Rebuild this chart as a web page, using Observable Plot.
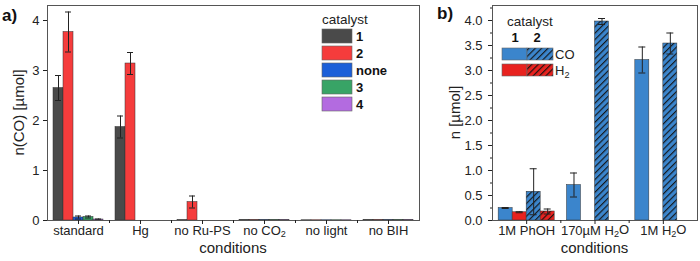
<!DOCTYPE html>
<html><head><meta charset="utf-8">
<script src="https://cdn.jsdelivr.net/npm/d3@7"></script>
<script src="https://cdn.jsdelivr.net/npm/@observablehq/plot@0.6"></script>
<style>
body{margin:0;background:#fff;}
#wrap{display:flex;width:700px;height:261px;overflow:hidden;}
#wrap svg{font-family:"Liberation Sans",Arial,sans-serif;display:block;}
</style></head><body><div id="wrap"></div>
<script>
// ---------- Panel a data ----------
const conditionsA = ["standard", "Hg", "no Ru-PS", "no CO₂", "no light", "no BIH"];
const catalystsA = ["1", "2", "none", "3", "4"];
const colorsA = ["#4a4a4a", "#f53c3c", "#1c5fd8", "#38a466", "#b36be0"];
const cat1Val = [2.65, 1.87, 0.006, 0.012, 0.005, 0.012];
const cat1Err = [0.25, 0.22, 0, 0, 0, 0];
const cat2Val = [3.77, 3.14, 0.37, 0.012, 0.005, 0.012];
const cat2Err = [0.40, 0.22, 0.12, 0, 0, 0];
const noneVal = [0.06, 0, 0, 0.012, 0.005, 0.012];
const noneErr = [0.03, 0, 0, 0, 0, 0];
const cat3Val = [0.07, 0, 0, 0.012, 0.005, 0.012];
const cat3Err = [0.02, 0, 0, 0, 0, 0];
const cat4Val = [0.02, 0, 0, 0.012, 0.005, 0.012];
const cat4Err = [0.01, 0, 0, 0, 0, 0];
const yTicksA = [0, 1, 2, 3, 4];

// ---------- Panel b data ----------
const conditionsB = ["1M PhOH", "170µM H₂O", "1M H₂O"];
const seriesB = ["CO, 1", "H₂, 1", "CO, 2", "H₂, 2"];
const co1Val = [0.25, 0.71, 3.21];
const co1Err = [0.01, 0.24, 0.26];
const h21Val = [0.165, 0, 0];
const h21Err = [0.01, 0, 0];
const co2Val = [0.575, 3.98, 3.54];
const co2Err = [0.46, 0.06, 0.21];
const h22Val = [0.18, 0, 0];
const h22Err = [0.05, 0, 0];
const yTicksB = [0, 0.5, 1, 1.5, 2, 2.5, 3, 3.5, 4];

const FONT = '"Liberation Sans",Arial,sans-serif';
const wrap = document.getElementById("wrap");

function cleanup(svg) {
  // remove empty tick texts of minor-tick axes
  d3.select(svg).selectAll("text").filter(function () { return this.textContent === ""; }).remove();
  // render the ₂ character as a real subscript
  d3.select(svg).selectAll("text").each(function () {
    const t = this.textContent;
    if (!t.includes("₂")) return;
    const parts = t.split("₂");
    const sel = d3.select(this);
    sel.text(null);
    let lowered = false;
    parts.forEach((p, j) => {
      if (p) {
        const ts = sel.append("tspan").text(p);
        if (lowered) { ts.attr("dy", "-0.3em"); lowered = false; }
      }
      if (j < parts.length - 1) {
        sel.append("tspan").attr("dy", "0.3em").attr("font-size", "0.7em").text("2");
        lowered = true;
      }
    });
  });
}

// ---------- Panel a ----------
const valsA = [cat1Val, cat2Val, noneVal, cat3Val, cat4Val];
const errsA = [cat1Err, cat2Err, noneErr, cat3Err, cat4Err];
const rowsA = [];
conditionsA.forEach((c, i) => catalystsA.forEach((cat, k) => {
  rowsA.push({i, k, cat, v: valsA[k][i], e: errsA[k][i]});
}));
const wA = 10 / 62;
const xcA = d => d.i + (d.k - 2) * wA;
const errRowsA = rowsA.filter(d => d.e > 0);

const plotA = Plot.plot({
  width: 430, height: 261,
  marginLeft: 47, marginRight: 11, marginTop: 5, marginBottom: 41,
  style: {fontFamily: FONT, fontSize: "13px", color: "#222", background: "#fff"},
  x: {domain: [-0.5, 5.5]},
  y: {domain: [0, 4.3]},
  color: {domain: catalystsA, range: colorsA},
  marks: [
    Plot.rect(rowsA, {x1: d => xcA(d) - wA / 2, x2: d => xcA(d) + wA / 2, y1: 0, y2: "v", fill: "cat", stroke: "#333", strokeWidth: 0.5}),
    Plot.ruleX(errRowsA, {x: xcA, y1: d => d.v - d.e, y2: d => d.v + d.e, stroke: "#222", strokeWidth: 1}),
    Plot.ruleY(errRowsA, {y: d => d.v + d.e, x1: d => xcA(d) - wA * 0.3, x2: d => xcA(d) + wA * 0.3, stroke: "#222"}),
    Plot.ruleY(errRowsA, {y: d => d.v - d.e, x1: d => xcA(d) - wA * 0.3, x2: d => xcA(d) + wA * 0.3, stroke: "#222"}),
    Plot.frame({stroke: "#555"}),
    Plot.axisY({ticks: yTicksA, tickSize: 4, tickPadding: 4, tickFormat: d3.format("d"), label: null, fontSize: 13}),
    Plot.axisX({ticks: d3.range(conditionsA.length), tickFormat: i => conditionsA[i], tickSize: 4, tickPadding: 1, label: null, fontSize: 13}),
    Plot.axisX({ticks: d3.range(0.5, conditionsA.length - 1, 1), tickFormat: () => "", tickSize: 3, label: null})
  ]
});
wrap.appendChild(plotA);

{
  const s = d3.select(plotA);
  s.append("text").attr("x", 2).attr("y", 21).attr("text-anchor", "start").attr("font-size", 17).attr("font-weight", "bold").attr("fill", "#111").text("a)");
  s.append("text").attr("transform", "translate(19,112.5) rotate(-90)").attr("text-anchor", "middle")
    .attr("dy", "0.35em").attr("font-size", 15).attr("fill", "#222").text("n(CO) [µmol]");
  s.append("text").attr("x", 233).attr("y", 253).attr("text-anchor", "middle").attr("font-size", 15).attr("fill", "#222").text("conditions");
  const lg = s.append("g").attr("font-size", 13).attr("text-anchor", "start");
  lg.append("text").attr("x", 322).attr("y", 24).attr("fill", "#222").attr("font-size", 13.5).text("catalyst");
  catalystsA.forEach((c, k) => {
    const y0 = 29 + k * 17;
    lg.append("rect").attr("x", 322).attr("y", y0).attr("width", 30).attr("height", 14)
      .attr("fill", colorsA[k]).attr("stroke", "#666").attr("stroke-width", 0.6);
    lg.append("text").attr("x", 356).attr("y", y0 + 12).attr("font-weight", "bold").attr("fill", "#111").text(c);
  });
  cleanup(plotA);
}

// ---------- Panel b ----------
const valsB = [co1Val, h21Val, co2Val, h22Val];
const errsB = [co1Err, h21Err, co2Err, h22Err];
const blueB = "#3b85cc", redB = "#e8221f";
const fillsB = [blueB, redB, "url(#hatchBlue)", "url(#hatchRed)"];
const wB = 14 / 68.3;
const xcB = d => d.i + (d.s - 1.5) * wB;
const rowsB = [];
conditionsB.forEach((c, i) => seriesB.forEach((sr, s) => {
  rowsB.push({i, s, v: valsB[s][i], e: errsB[s][i]});
}));
const errRowsB = rowsB.filter(d => d.e > 0);

const plotB = Plot.plot({
  width: 270, height: 261,
  marginLeft: 62, marginRight: 3, marginTop: 5, marginBottom: 41,
  style: {fontFamily: FONT, fontSize: "13px", color: "#222", background: "#fff"},
  x: {domain: [-0.5, 2.5]},
  y: {domain: [0, 4.3]},
  marks: [
    ...seriesB.map((sr, s) => Plot.rect(rowsB.filter(d => d.s === s && d.v > 0), {
      x1: d => xcB(d) - wB / 2, x2: d => xcB(d) + wB / 2, y1: 0, y2: "v",
      fill: fillsB[s], stroke: "#333", strokeWidth: 0.5
    })),
    Plot.ruleX(errRowsB, {x: xcB, y1: d => d.v - d.e, y2: d => d.v + d.e, stroke: "#222", strokeWidth: 1}),
    Plot.ruleY(errRowsB, {y: d => d.v + d.e, x1: d => xcB(d) - wB * 0.25, x2: d => xcB(d) + wB * 0.25, stroke: "#222"}),
    Plot.ruleY(errRowsB, {y: d => d.v - d.e, x1: d => xcB(d) - wB * 0.25, x2: d => xcB(d) + wB * 0.25, stroke: "#222"}),
    Plot.frame({stroke: "#555"}),
    Plot.axisY({ticks: yTicksB, tickSize: 4, tickPadding: 6, tickFormat: d3.format(".1f"), label: null, fontSize: 13}),
    Plot.axisY({ticks: d3.range(0.25, 4.3, 0.5), tickSize: 2, tickFormat: () => "", label: null}),
    Plot.axisX({ticks: d3.range(conditionsB.length), tickFormat: i => conditionsB[i], tickSize: 4, tickPadding: 1, label: null, fontSize: 13}),
    Plot.axisX({ticks: [0.5, 1.5], tickFormat: () => "", tickSize: 3, label: null})
  ]
});
wrap.appendChild(plotB);

{
  const s = d3.select(plotB);
  const defs = s.insert("defs", ":first-child");
  [["hatchBlue", blueB], ["hatchRed", redB]].forEach(([id, col]) => {
    const p = defs.append("pattern").attr("id", id).attr("patternUnits", "userSpaceOnUse")
      .attr("width", 4.5).attr("height", 4.5).attr("patternTransform", "rotate(45)");
    p.append("rect").attr("width", 4.5).attr("height", 4.5).attr("fill", col);
    p.append("line").attr("x1", 0.6).attr("y1", 0).attr("x2", 0.6).attr("y2", 4.5).attr("stroke", "#111").attr("stroke-width", 1.1);
  });
  s.append("text").attr("x", 7).attr("y", 19).attr("text-anchor", "start").attr("font-size", 17).attr("font-weight", "bold").attr("fill", "#111").text("b)");
  s.append("text").attr("transform", "translate(25,112.5) rotate(-90)").attr("text-anchor", "middle")
    .attr("dy", "0.35em").attr("font-size", 15).attr("fill", "#222").text("n [µmol]");
  s.append("text").attr("x", 164.5).attr("y", 253).attr("text-anchor", "middle").attr("font-size", 15).attr("fill", "#222").text("conditions");
  // legend
  const lg = s.append("g").attr("font-size", 13).attr("text-anchor", "start");
  lg.append("text").attr("x", 77).attr("y", 26).attr("fill", "#222").attr("font-size", 13.5).text("catalyst");
  ["1", "2"].forEach((c, j) => lg.append("text").attr("x", 85 + j * 22).attr("y", 42).attr("text-anchor", "middle")
    .attr("font-weight", "bold").attr("fill", "#111").text(c));
  const gases = ["CO", "H₂"];
  gases.forEach((g, r) => {
    const y0 = 48 + r * 16;
    lg.append("rect").attr("x", 72).attr("y", y0).attr("width", 25).attr("height", 12)
      .attr("fill", fillsB[r]).attr("stroke", "#666").attr("stroke-width", 0.6);
    lg.append("rect").attr("x", 97).attr("y", y0).attr("width", 26).attr("height", 12)
      .attr("fill", fillsB[r + 2]).attr("stroke", "#666").attr("stroke-width", 0.6);
    lg.append("text").attr("x", 125).attr("y", y0 + 11).attr("fill", "#222").text(g);
  });
  cleanup(plotB);
}
</script>
</body></html>
